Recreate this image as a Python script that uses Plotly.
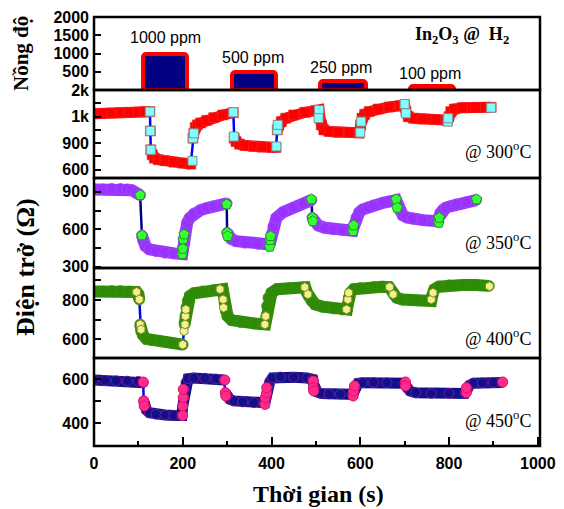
import numpy as np
import plotly.graph_objects as go

# ---------------- data ----------------
# H2 pulses (top panel)
pulse_on = [110, 310, 510, 712]
pulse_off = [210, 410, 612, 812]
pulse_ppm = [1000, 500, 250, 100]
pulse_labels = ["1000 ppm", "500 ppm", "250 ppm", "100 ppm"]

# 300 C  (None = break in the dense marker band)
t300 = [0, 20, 40, 60, 80, 100, 115, 126, None, 127, None,
        128, 131, 136, 145, 160, 180, 200, 218, None, 223, None,
        225, 228, 233, 240, 254, 270, 290, 314, None,
        316, 320, 328, 340, 360, 380, 400, 410, None,
        413, 416, 422, 432, 450, 475, 500, 507,
        509, 512, 518, 530, 550, 575, 598,
        601, 604, 610, 620, 640, 665, 690, 700,
        703, 708, 720, 740, 770, 797,
        800, 804, 812, 830, 860, 895]
r300 = [1112, 1124, 1136, 1150, 1162, 1174, 1187, 1187, None, 946, None,
        825, 769, 731, 713, 701, 686, 675, 664, None, 919, None,
        937, 959, 969, 976, 986, 996, 1062, 1150, None,
        919, 906, 889, 874, 863, 855, 851, 851, None,
        950, 966, 981, 994, 1062, 1162, 1224, 1249,
        994, 969, 950, 944, 941, 940, 939,
        969, 994, 1087, 1187, 1286, 1361, 1411, 1436,
        1187, 1000, 994, 991, 989, 986,
        1000, 1187, 1286, 1336, 1349, 1349]
t300_hl = [126, 127, 128, 222, 223, 225, 314, 315, 411, 413, 414,
           507, 506, 600, 602, 700, 703, 797, 798, 895]
r300_hl = [1187, 946, 825, 701, 919, 937, 1162, 925, 863, 950, 969,
           1249, 994, 940, 981, 1473, 1124, 981, 994, 1336]

# 350 C
t350 = [0, 20, 40, 60, 75, 85, 95, 104, None,
        108, 111, 116, 125, 140, 160, 180, 199,
        201, 203, 206, 210, 216, 225, 239, 255, 270, 290, 299, None,
        300, 303, 309, 320, 340, 370, 395,
        397, 400, 404, 411, 426, 449, 471, 490, None,
        492, 496, 505, 520, 540, 561, 583,
        586, 591, 598, 606, 618, 629, 651, 681,
        685, 690, 696, 705, 718, 741, 771,
        776, 780, 786, 793, 805, 816, 839, 861]
r350 = [919, 921, 924, 924, 921, 913, 892, 873, None,
        551, 505, 465, 439, 425, 412, 407, 401,
        460, 532, 585, 652, 692, 727, 751, 769, 785, 799, 807, None,
        572, 551, 524, 505, 492, 484, 479,
        492, 559, 625, 692, 737, 772, 807, 833, None,
        692, 665, 631, 612, 599, 593, 588,
        625, 692, 737, 759, 777, 791, 812, 833,
        785, 745, 711, 695, 684, 673, 665,
        692, 732, 759, 772, 785, 799, 817, 833]
t350_hl = [104, 108, 199, 200, 201, 203, 299, 300, 301, 396, 397, 398,
           490, 492, 493, 584, 585, 681, 683, 777, 778, 862]
r350_hl = [873, 551, 401, 444, 519, 559, 799, 572, 545, 460, 513, 545,
           839, 692, 665, 585, 631, 839, 772, 652, 692, 839]

# 400 C
t400 = [0, 20, 40, 60, 80, 96, 100, 102, None,
        104, 106, 110, 118, 130, 150, 175, 200, None,
        204, 206, 208, 211, 216, 225, 245, 270, 290,
        292, 294, 297, 301, 310, 330, 360, 386,
        388, 390, 393, 400, 412, 440, 470, 476,
        480, 484, 490, 498, 515, 540, 560, 570,
        572, 574, 578, 585, 600, 630, 650, 665,
        670, 675, 682, 695, 730, 760,
        763, 767, 777, 800, 830, 860, 890]
r400 = [844, 844, 846, 846, 844, 841, 829, 803, None,
        676, 642, 624, 602, 596, 590, 582, 573, None,
        676, 718, 761, 795, 820, 834, 844, 851, 855,
        829, 786, 744, 718, 698, 688, 681, 676,
        718, 769, 812, 837, 855, 861, 865, 865,
        837, 817, 795, 778, 766, 757, 752, 752,
        778, 812, 837, 855, 861, 866, 868, 866,
        851, 829, 812, 803, 798, 795,
        829, 855, 868, 875, 877, 877, 872]
t400_hl = [96, 102, 104, 106, 200, 203, 205, 206, 207, 284, 291, 292,
           385, 387, 475, 482, 569, 572, 574, 666, 674, 760, 764, 891]
r400_hl = [841, 803, 676, 650, 573, 642, 676, 718, 752, 855, 803, 761,
           676, 718, 865, 829, 752, 803, 837, 866, 829, 803, 837, 870]

# 450 C
t450 = [0, 25, 50, 75, 100, 111, None,
        112, 114, 118, 125, 140, 160, 180, 198,
        200, 202, 204, 207, 212, 225, 250, 275, 293, None,
        296, 300, 306, 315, 335, 360, 385,
        387, 389, 392, 396, 402, 420, 450, 480, 493,
        495, 498, 503, 512, 530, 555, 583,
        585, 587, 590, 595, 605, 630, 660, 700,
        703, 706, 712, 725, 760, 800, 836,
        839, 842, 846, 855, 875, 900, 920]
r450 = [597, 595, 594, 592, 591, 585, None,
        502, 479, 461, 448, 441, 438, 436, 436,
        479, 517, 555, 585, 603, 606, 605, 602, 597, None,
        539, 521, 509, 502, 497, 494, 494,
        509, 532, 562, 588, 606, 611, 609, 606, 600,
        577, 555, 542, 536, 533, 532, 532,
        539, 558, 573, 582, 585, 586, 585, 582,
        570, 558, 547, 539, 536, 536, 536,
        547, 562, 573, 582, 585, 586, 586]
t450_hl = [111, 112, 113, 200, 200, 201, 201, 295, 296, 297, 385, 386, 389,
           389, 494, 494, 495, 584, 585, 587, 702, 702, 839, 839, 921]
r450_hl = [588, 502, 479, 436, 479, 517, 555, 597, 539, 524, 486, 517, 539,
           562, 592, 562, 547, 524, 547, 570, 588, 570, 539, 562, 588]

# tick labels of the (non-linear) 300 C axis
ticks300_ohm = [600, 900, 1000, 2000]
ticks300_text = ["600", "900", "1k", "2k"]


# ---------------- helpers ----------------
def scale300(vals):
    """Position on the 300 C axis: ticks 600, 900, 1k, 2k are evenly spaced."""
    pos = list(range(len(ticks300_ohm)))
    return [None if v is None else float(np.interp(v, ticks300_ohm, pos)) for v in vals]


def no_gaps(xs, ys):
    pairs = [(a, b) for a, b in zip(xs, ys) if a is not None and b is not None]
    return [p[0] for p in pairs], [p[1] for p in pairs]


fig = go.Figure()

# top panel: pulses
fig.add_trace(go.Bar(
    x=[(a + b) / 2 for a, b in zip(pulse_on, pulse_off)],
    y=pulse_ppm,
    width=[b - a for a, b in zip(pulse_on, pulse_off)],
    marker=dict(color="#000080", line=dict(color="#ff0000", width=4), cornerradius=3),
    xaxis="x", yaxis="y", showlegend=False, hoverinfo="skip"))

panels = [
    ("y2", t300, scale300(r300), t300_hl, scale300(r300_hl), "#ff0000", "#e03030", "square", 11,
     "#0000ff", "#80ffff", "#8c8c8c", "square", 9),
    ("y3", t350, r350, t350_hl, r350_hl, "#9932ff", "#a555ff", "circle", 12,
     "#000080", "#33ff33", "#1f9a1f", "pentagon", 11),
    ("y4", t400, r400, t400_hl, r400_hl, "#2f8a06", "#3c9512", "circle", 12,
     "#0000ff", "#f2f28c", "#8a8a30", "hexagon", 9),
    ("y5", t450, r450, t450_hl, r450_hl, "#10108c", "#b0248c", "circle", 11,
     "#0000ff", "#ff2a8a", "#e0106f", "circle", 10),
]

for (ya, tx, ry, th, rh, band, edge, sym, bw, link, hl, hledge, hlsym, hlsize) in panels:
    lx, ly = no_gaps(tx, ry)
    fig.add_trace(go.Scatter(x=lx, y=ly, mode="lines", line=dict(color=link, width=2.5),
                             xaxis="x", yaxis=ya, showlegend=False, hoverinfo="skip"))
    fig.add_trace(go.Scatter(x=tx, y=ry, mode="lines+markers", connectgaps=False,
                             line=dict(color=band, width=bw),
                             marker=dict(symbol=sym, size=bw - 1, color=band,
                                         line=dict(color=edge, width=0.6)),
                             xaxis="x", yaxis=ya, showlegend=False, hoverinfo="skip"))
    fig.add_trace(go.Scatter(x=th, y=rh, mode="markers",
                             marker=dict(symbol=hlsym, size=hlsize, color=hl,
                                         line=dict(color=hledge, width=1)),
                             xaxis="x", yaxis=ya, showlegend=False, hoverinfo="skip"))

# ---------------- layout ----------------
L, R, T, B = 94, 24, 17, 63
W, H = 564, 509
pw, ph = W - L - R, H - T - B


def px_x(p):
    return (p - L) / pw


def px_y(p):
    return (H - B - p) / ph


tickfont = dict(family="Liberation Sans, Arial, sans-serif", size=16, color="black", weight="bold")
common_y = dict(showgrid=False, zeroline=False, showline=False, ticks="inside", ticklen=7,
                tickwidth=2, tickcolor="black", tickfont=tickfont, anchor="x",
                ticklabelstandoff=4, automargin=False)

dom = [(px_y(90), px_y(17)), (px_y(178), px_y(90)), (px_y(268), px_y(178)),
       (px_y(358), px_y(268)), (px_y(446), px_y(358))]

fig.update_layout(
    width=W, height=H, margin=dict(l=L, r=R, t=T, b=B, autoexpand=False),
    plot_bgcolor="white", paper_bgcolor="white",
    bargap=0,
    xaxis=dict(range=[0, 1005], anchor="y5", showgrid=False, zeroline=False, showline=False,
               ticks="inside", ticklen=9, tickwidth=2, tickcolor="black",
               tickvals=[0, 200, 400, 600, 800, 1000],
               minor=dict(tickvals=[100, 300, 500, 700, 900], ticks="inside", ticklen=5,
                          tickwidth=2, tickcolor="black"),
               tickfont=dict(family="Liberation Sans, Arial, sans-serif", size=16,
                             color="black", weight="bold"),
               ticklabelstandoff=6, automargin=False),
    yaxis=dict(domain=list(dom[0]), range=[0, 2003], tickvals=[500, 1000, 1500, 2000], **common_y),
    yaxis2=dict(domain=list(dom[1]), range=[-0.31, 3.001], tickvals=[0, 1, 2, 3],
                ticktext=ticks300_text,
                minor=dict(tickvals=[0.5, 1.5, 2.5], ticks="inside", ticklen=7, tickwidth=2,
                           tickcolor="black"), **common_y),
    yaxis3=dict(domain=list(dom[2]), range=[290, 1010], tickvals=[300, 600, 900],
                minor=dict(tickvals=[450, 750], ticks="inside", ticklen=7, tickwidth=2,
                           tickcolor="black"), **common_y),
    yaxis4=dict(domain=list(dom[3]), range=[505, 963], tickvals=[600, 800],
                minor=dict(tickvals=[700, 900], ticks="inside", ticklen=7, tickwidth=2,
                           tickcolor="black"), **common_y),
    yaxis5=dict(domain=list(dom[4]), range=[297, 697], tickvals=[400, 600],
                minor=dict(tickvals=[500], ticks="inside", ticklen=7, tickwidth=2,
                           tickcolor="black"), **common_y),
)

shapes = []
for ya in ["y", "y2", "y3", "y4", "y5"]:
    shapes.append(dict(type="rect", xref="x domain", yref=f"{ya} domain",
                       x0=0, x1=1, y0=0, y1=1, line=dict(color="black", width=2.5),
                       layer="above"))
fig.update_layout(shapes=shapes)

serif = "Liberation Serif, Times New Roman, serif"
sans = "Liberation Sans, Arial, sans-serif"
ann = []
label_pos = [(161, 1430), (358, 905), (556, 605), (758, 440)]
for txt, (lx, ly) in zip(pulse_labels, label_pos):
    ann.append(dict(text=txt, x=lx, y=ly, xref="x", yref="y", showarrow=False,
                    xanchor="center", yanchor="middle",
                    font=dict(family=sans, size=16, color="black")))
ann.append(dict(text="<b>In<sub>2</sub>O<sub>3</sub> @&nbsp; H<sub>2</sub></b>", x=830, y=1500,
                xref="x", yref="y", showarrow=False, xanchor="center", yanchor="middle",
                font=dict(family=serif, size=18, color="black")))
for txt, py in [("300", 150), ("350", 241), ("400", 337.7), ("450", 419.3)]:
    ann.append(dict(text=f"@ {txt}<sup>o</sup>C", x=px_x(533), y=px_y(py), xref="paper",
                    yref="paper", xanchor="right", yanchor="middle", showarrow=False,
                    font=dict(family=serif, size=18, color="black")))
ann.append(dict(text="<b>Nồng độ</b>", x=px_x(21), y=px_y(54), xref="paper", yref="paper",
                xanchor="center", yanchor="middle",
                textangle=-90, showarrow=False, font=dict(family=serif, size=21, color="black")))
ann.append(dict(text="<b>Điện trở (Ω)</b>", x=px_x(25), y=px_y(267), xref="paper",
                yref="paper", textangle=-90, showarrow=False, xanchor="center", yanchor="middle",
                font=dict(family=serif, size=26, color="black")))
ann.append(dict(text="<b>Thời gian (s)</b>", x=px_x(318), y=px_y(494), xref="paper",
                yref="paper", showarrow=False, xanchor="center", yanchor="middle",
                font=dict(family=serif, size=24, color="black")))
fig.update_layout(annotations=ann)

fig.write_html("out.html", config={"displayModeBar": False},
               post_script="document.body.style.margin='0px';")
